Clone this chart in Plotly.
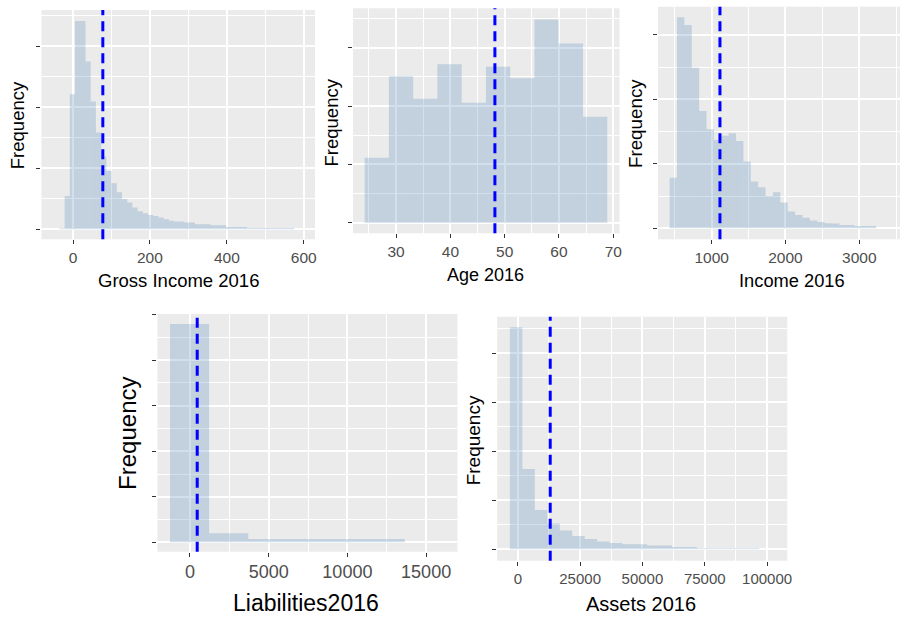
import plotly.graph_objects as go

W, H = 905, 619

# ---------------- data ----------------
# Panel 1: Gross Income 2016 (histogram: first bin edge, bin width, counts)
gross_start = -35.3
gross_width = 13.55
gross_counts = [8, 273, 1107, 1708, 1708, 1375, 1047, 793, 596, 478,
                377, 303, 249, 219, 178, 148, 131, 117, 109, 96,
                82, 71, 63, 63, 55, 55, 41, 41, 41, 33,
                33, 33, 19, 19, 19, 19, 11, 11, 11, 11,
                11, 11, 11, 11, 11]
gross_mean = 77.5

# Panel 2: Age 2016
age_start = 24.2
age_width = 4.47
age_counts = [55.7, 125.7, 106.3, 136.0, 102.9, 133.7, 124.0, 174.3, 153.7, 90.9]
age_mean = 48.2

# Panel 3: Income 2016
inc_start = 430
inc_width = 100
inc_counts = [157, 654, 630, 498, 364, 307, 274, 287, 295, 271,
              207, 145, 127, 100, 112, 80, 52, 41, 33, 24,
              20, 16, 15, 10, 10, 7, 7, 7]
inc_mean = 1112

# Panel 4: Liabilities2016
liab_start = -1265
liab_width = 2485
liab_counts = [4796, 197, 73, 73, 73, 73]
liab_mean = 463

# Panel 5: Assets 2016
ast_start = -3170
ast_width = 5000
ast_counts = [4531, 1639, 802, 524, 381, 272, 211, 157, 129, 102,
              102, 76, 76, 47, 47, 20, 20, 20, 20, 20]
ast_mean = 13000

x_titles = ["Gross Income 2016", "Age 2016", "Income 2016", "Liabilities2016", "Assets 2016"]
y_title = "Frequency"

# ---------------- layout helpers ----------------
panels = [
    dict(start=gross_start, width=gross_width, counts=gross_counts, mean=gross_mean,
         box=(41.7, 316.7, 10, 239.3), xr=[-82, 629], yr=[-82, 1798],
         xdt=200, xminor=100, x0=0, ydt=500, yminor=250,
         tickfs=15.5, titlefs=18.5, xt=(179, 280.7), yt=(18.3, 125), yfs=18.5),
    dict(start=age_start, width=age_width, counts=age_counts, mean=age_mean,
         box=(355, 623, 8.3, 233.3), xr=[22.07, 71.16], yr=[-9.1, 183.9],
         xdt=10, xminor=5, x0=0, ydt=50, yminor=25,
         tickfs=15.5, titlefs=18, xt=(488.3, 275), yt=(333.3, 122), yfs=18.5),
    dict(start=inc_start, width=inc_width, counts=inc_counts, mean=inc_mean,
         box=(661.7, 905, 6.7, 239.3), xr=[273, 3552], yr=[-34, 687],
         xdt=1000, xminor=500, x0=0, ydt=200, yminor=100,
         tickfs=15.5, titlefs=18.3, xt=(796.3, 280), yt=(639.3, 123.3), yfs=18.8),
    dict(start=liab_start, width=liab_width, counts=liab_counts, mean=liab_mean,
         box=(158.3, 460, 314, 551.7), xr=[-2063, 16990], yr=[-206, 5015],
         xdt=5000, xminor=2500, x0=0, ydt=1000, yminor=500,
         tickfs=18, titlefs=23, xt=(307.3, 603.3), yt=(128.3, 433.3), yfs=24),
    dict(start=ast_start, width=ast_width, counts=ast_counts, mean=ast_mean,
         box=(500, 791.7, 316.7, 560.7), xr=[-8245, 108110], yr=[-233, 4747],
         xdt=25000, xminor=12500, x0=0, ydt=1000, yminor=500,
         tickfs=15, titlefs=20, xt=(645, 604), yt=(476, 440), yfs=19),
]

fig = go.Figure()
layout = dict(
    width=W, height=H,
    margin=dict(l=0, r=0, t=0, b=0),
    paper_bgcolor="white", plot_bgcolor="#EBEBEB",
    showlegend=False,
    font=dict(family="Liberation Sans, Arial, sans-serif", color="#4D4D4D"),
    annotations=[], shapes=[],
)

for i, p in enumerate(panels):
    n = "" if i == 0 else str(i + 1)
    xa, ya = "x" + n, "y" + n
    centers = [p["start"] + p["width"] * (k + 0.5) for k in range(len(p["counts"]))]
    fig.add_trace(go.Bar(
        x=centers, y=p["counts"], width=[p["width"]] * len(centers),
        marker=dict(color="rgba(70,130,180,0.25)", line=dict(width=0)),
        xaxis=xa, yaxis=ya, hoverinfo="skip",
    ))
    l, r, t, b = p["box"]
    layout["xaxis" + n] = dict(
        domain=[l / W, r / W], range=p["xr"], anchor=ya,
        tick0=p["x0"], dtick=p["xdt"], tickformat="d",
        ticks="outside", ticklen=4, tickwidth=1.1,
        tickcolor="#333333", showgrid=True, gridcolor="white", gridwidth=1.5,
        minor=dict(dtick=p["xminor"], tick0=0, showgrid=True, gridcolor="white", gridwidth=0.8),
        zeroline=False, showline=False,
        tickfont=dict(size=p["tickfs"], color="#4D4D4D"),
        fixedrange=True,
    )
    layout["yaxis" + n] = dict(
        domain=[1 - b / H, 1 - t / H], range=p["yr"], anchor=xa,
        tick0=0, dtick=p["ydt"], ticks="outside", ticklen=4, tickwidth=1.1,
        tickcolor="#333333", showticklabels=False,
        showgrid=True, gridcolor="white", gridwidth=1.5,
        minor=dict(dtick=p["yminor"], tick0=0, showgrid=True, gridcolor="white", gridwidth=0.8),
        zeroline=False, showline=False, fixedrange=True,
    )
    layout["shapes"].append(dict(
        type="line", xref=xa, yref=ya + " domain", x0=p["mean"], x1=p["mean"], y0=0, y1=1,
        line=dict(color="#0000FF", width=3, dash="10px,6px"),
    ))
    layout["annotations"].append(dict(
        text=x_titles[i], xref="paper", yref="paper",
        x=p["xt"][0] / W, y=1 - p["xt"][1] / H, xanchor="center", yanchor="middle",
        showarrow=False, font=dict(size=p["titlefs"], color="black"),
    ))
    layout["annotations"].append(dict(
        text=y_title, xref="paper", yref="paper", textangle=-90,
        x=p["yt"][0] / W, y=1 - p["yt"][1] / H, xanchor="center", yanchor="middle",
        showarrow=False, font=dict(size=p["yfs"], color="black"),
    ))

fig.update_layout(**layout)
fig.write_html(
    "out.html",
    config={"displayModeBar": False},
    post_script=(
        "document.documentElement.style.margin='0';"
        "document.documentElement.style.padding='0';"
        "document.documentElement.style.overflow='hidden';"
        "document.body.style.margin='0';"
        "document.body.style.padding='0';"
        "document.body.style.overflow='hidden';"
    ),
)
